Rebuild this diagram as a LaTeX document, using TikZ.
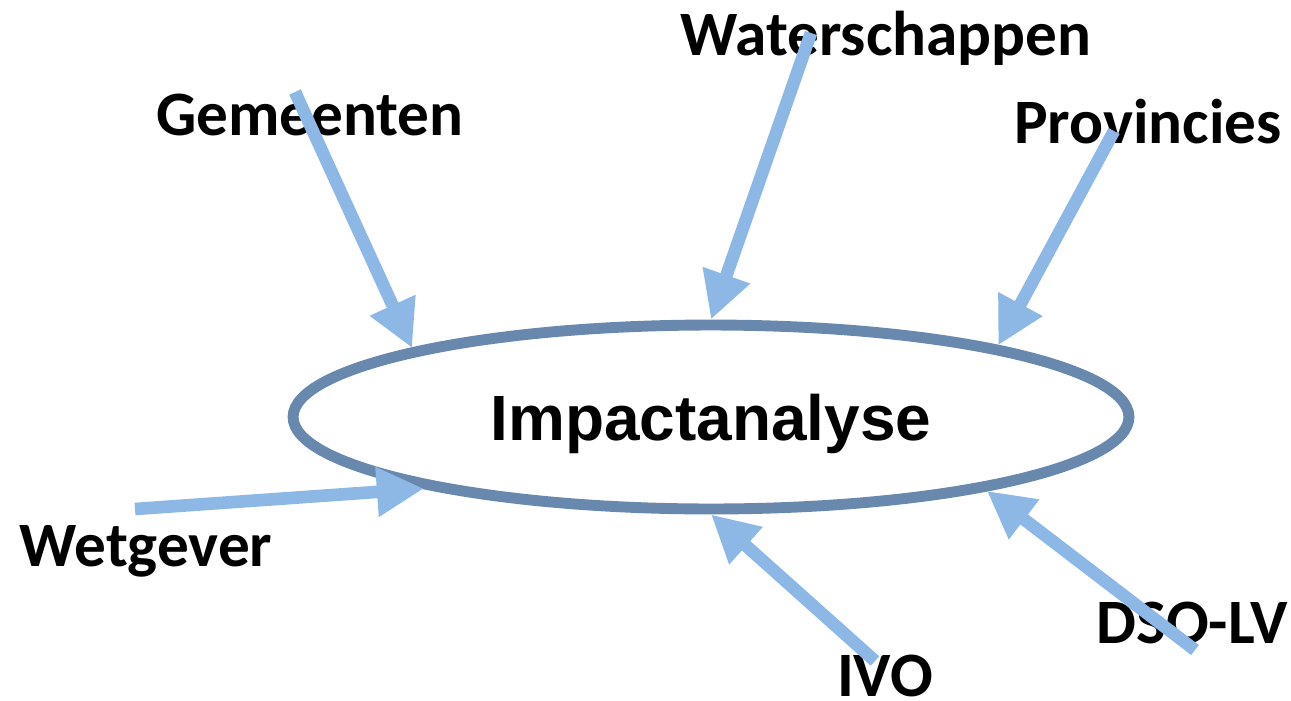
\documentclass[tikz,border=0pt]{standalone}
\usepackage{fontspec}
\setmainfont{Carlito}
\newfontfamily\arialfont{Liberation Sans}
\usetikzlibrary{arrows.meta}
\usetikzlibrary{shapes.geometric}
\definecolor{ringblue}{HTML}{6889AD}
\definecolor{arrowblue}{HTML}{8DB8E5}

\begin{document}
\begin{tikzpicture}[x=0.02cm,y=-0.02cm,
  lbl/.style={font=\fontsize{36}{43}\selectfont\bfseries,text=black,anchor=base,inner sep=0pt},
  feed/.style={draw=arrowblue,line width=7.2pt,-{Triangle[length=0.94cm,width=0.94cm]}}]
\useasboundingbox (0,0) rectangle (1291,700);

\node[ellipse,draw=ringblue,line width=6.2pt,minimum width=16.72cm,minimum height=3.68cm,inner sep=0pt] (impact) at (711,417) {};
\node[font=\arialfont\fontsize{36.4}{43}\selectfont\bfseries,text=black,anchor=base,inner sep=0pt] (title) at (711,440) {Impactanalyse};

\node[lbl] (gem) at (310,135) {Gemeenten};
\node[lbl] (water) at (886,55) {Waterschappen};
\node[lbl] (prov) at (1148,143) {Provincies};
\node[lbl] (wet) at (146,566) {Wetgever};
\node[lbl] (ivo) at (885,696) {IVO};
\node[lbl] (dso) at (1192,643) {DSO-LV};

\coordinate (gem-tail) at (295,92);
\coordinate (water-tail) at (811,33);
\coordinate (prov-tail) at (1114,131);
\coordinate (wet-tail) at (135,509);
\coordinate (ivo-tail) at (875,661);
\coordinate (dso-tail) at (1195,650);

\draw[feed] (gem-tail) -- (impact.167);
\draw[feed] (water-tail) -- (impact.90);
\draw[feed] (prov-tail) -- (impact.14);
\draw[feed] (wet-tail) -- (impact.194);
\draw[feed] (ivo-tail) -- (impact.270);
\draw[feed] (dso-tail) -- (impact.345.5);

\end{tikzpicture}
\end{document}
